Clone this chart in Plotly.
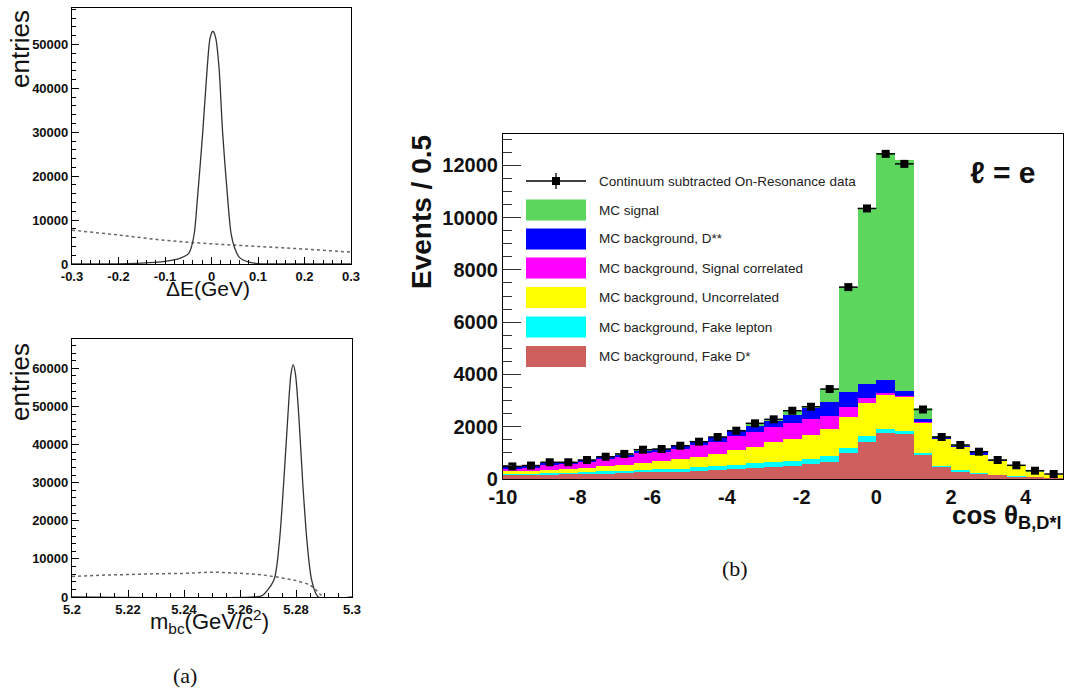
import plotly.graph_objects as go

W, H = 1067, 695
def px(x): return x / W
def py(y): return 1 - y / H

# ---------------- (a) top : Delta E ----------------
de_sig_x = [-0.30, -0.20, -0.15, -0.10, -0.07, -0.05, -0.045, -0.037, -0.0305, -0.019, -0.009, -0.003,
            0.003, 0.009, 0.016, 0.024, 0.035, 0.042, 0.05, 0.06, 0.08, 0.10, 0.15, 0.30]
de_sig_y = [0, 50, 200, 600, 1200, 2300, 3300, 7000, 14600, 29800, 45000, 51500,
            53000, 51500, 45000, 29800, 14600, 7000, 3600, 1500, 400, 100, 0, 0]
de_bkg_x = [-0.3, -0.2, -0.1, 0.0, 0.1, 0.2, 0.3]
de_bkg_y = [7700, 6600, 5400, 4600, 4000, 3400, 2700]

# ---------------- (a) bottom : Mbc ----------------
mbc_sig_x = [5.200, 5.265, 5.268, 5.2721, 5.2740, 5.2756, 5.2770, 5.2782, 5.2790, 5.2798,
             5.2811, 5.2824, 5.2840, 5.2856, 5.2880, 5.300]
mbc_sig_y = [0, 0, 400, 4460, 14000, 30000, 46400, 58500, 61000, 58500,
             46400, 30000, 14000, 4460, 0, 0]
mbc_bkg_x = [5.200, 5.210, 5.220, 5.230, 5.240, 5.250, 5.260, 5.265, 5.270, 5.275,
             5.280, 5.285, 5.2875, 5.2895]
mbc_bkg_y = [5400, 5700, 5900, 6100, 6200, 6500, 6200, 6000, 5600, 5000,
             4300, 3100, 1600, 0]

# ---------------- (b) cos theta_B,D*l ----------------
bin_centers = [-9.75, -9.25, -8.75, -8.25, -7.75, -7.25, -6.75, -6.25, -5.75, -5.25,
               -4.75, -4.25, -3.75, -3.25, -2.75, -2.25, -1.75, -1.25, -0.75, -0.25,
               0.25, 0.75, 1.25, 1.75, 2.25, 2.75, 3.25, 3.75, 4.25, 4.75]
# cumulative tops of the stacked MC components
fake_dstar_top = [140, 150, 160, 175, 190, 210, 220, 255, 268, 280,
                  318, 344, 370, 433, 470, 497, 574, 650, 994, 1427,
                  1771, 1721, 918, 447, 280, 191, 140, 89, 51, 24]
fake_lep_top = [200, 210, 225, 245, 265, 300, 320, 357, 370, 395,
                447, 497, 547, 600, 650, 700, 765, 885, 1185, 1644,
                1924, 1835, 982, 485, 332, 218, 165, 115, 70, 35]
uncorr_top = [300, 310, 345, 380, 420, 480, 535, 624, 688, 752,
              853, 956, 1109, 1235, 1403, 1518, 1683, 1930, 2382, 2894,
              3212, 3147, 2160, 1518, 1211, 918, 700, 497, 280, 153]
sigcorr_top = [400, 420, 520, 560, 640, 750, 830, 982, 1045, 1147,
               1300, 1427, 1644, 1810, 1977, 2130, 2283, 2400, 2765, 3085,
               3277, 3186, 2170, 1525, 1215, 920, 702, 500, 282, 155]
dss_top = [470, 500, 600, 640, 720, 850, 930, 1057, 1150, 1260,
           1420, 1600, 1830, 2027, 2206, 2447, 2703, 2933, 3315, 3633,
           3786, 3377, 2283, 1618, 1260, 1020, 715, 505, 285, 157]
signal_top = [480, 515, 630, 650, 740, 870, 960, 1110, 1160, 1280,
              1440, 1620, 1860, 2103, 2283, 2600, 2803, 3450, 7342, 10352,
              12455, 12200, 2700, 1644, 1300, 1044, 727, 510, 290, 160]
data_y = [480, 515, 640, 640, 727, 853, 960, 1121, 1147, 1274,
          1427, 1606, 1848, 2130, 2283, 2612, 2765, 3442, 7342, 10352,
          12440, 12057, 2660, 1606, 1300, 1044, 727, 524, 317, 191]

comp_names = ["MC signal", "MC background, D**", "MC background, Signal correlated",
              "MC background, Uncorrelated", "MC background, Fake lepton", "MC background, Fake D*"]
comp_colors = ["#5cd65c", "#0000ff", "#ff00ff", "#ffff00", "#00ffff", "#cd5f5f"]
comp_tops = [signal_top, dss_top, sigcorr_top, uncorr_top, fake_lep_top, fake_dstar_top]

FONT = "Liberation Sans, Arial, Helvetica, sans-serif"

fig = go.Figure()

# left curves
fig.add_trace(go.Scatter(x=de_bkg_x, y=de_bkg_y, mode="lines", line=dict(color="#666", width=1.5, dash="dot", shape="spline"),
                         xaxis="x", yaxis="y", showlegend=False))
fig.add_trace(go.Scatter(x=de_sig_x, y=de_sig_y, mode="lines", line=dict(color="#333", width=1.3, shape="spline", smoothing=0.8),
                         xaxis="x", yaxis="y", showlegend=False))
fig.add_trace(go.Scatter(x=mbc_bkg_x, y=mbc_bkg_y, mode="lines", line=dict(color="#666", width=1.5, dash="dot", shape="spline"),
                         xaxis="x2", yaxis="y2", showlegend=False))
fig.add_trace(go.Scatter(x=mbc_sig_x, y=mbc_sig_y, mode="lines", line=dict(color="#333", width=1.3, shape="spline", smoothing=0.8),
                         xaxis="x2", yaxis="y2", showlegend=False))

# right stacked histogram (overlaid cumulative tops)
for name, col, top in zip(comp_names, comp_colors, comp_tops):
    fig.add_trace(go.Bar(x=bin_centers, y=top, width=0.5, marker=dict(color=col, line=dict(width=0)),
                         opacity=1, name=name, xaxis="x3", yaxis="y3", showlegend=False))
fig.add_trace(go.Scatter(x=bin_centers, y=data_y, mode="markers",
                         marker=dict(symbol="square", size=8, color="black"),
                         error_x=dict(type="constant", value=0.25, width=0, thickness=1.5, color="black"),
                         xaxis="x3", yaxis="y3", showlegend=False))

small_tick = dict(family=FONT, size=13, color="#111", weight="bold")
big_tick = dict(family=FONT, size=20, color="#111", weight="bold")

def left_axis_common():
    return dict(showline=True, linecolor="black", linewidth=1.2, mirror=True, ticks="inside",
                ticklen=7, tickcolor="black", showgrid=False, zeroline=False, tickfont=small_tick,
                automargin=False)

layout = dict(
    width=W, height=H, autosize=False, margin=dict(l=0, r=0, t=0, b=0, pad=0),
    paper_bgcolor="white", plot_bgcolor="white", barmode="overlay", bargap=0,
    xaxis=dict(domain=[px(72), px(351)], range=[-0.3, 0.3], anchor="y",
               tickvals=[-0.3, -0.2, -0.1, 0, 0.1, 0.2, 0.3],
               ticktext=["-0.3", "-0.2", "-0.1", "0", "0.1", "0.2", "0.3"],
               minor=dict(ticks="inside", dtick=0.02, tick0=-0.3, ticklen=4, tickcolor="black"),
               **left_axis_common()),
    yaxis=dict(domain=[py(264), py(8)], range=[0, 58300], anchor="x",
               tickvals=[0, 10000, 20000, 30000, 40000, 50000],
               ticktext=["0", "10000", "20000", "30000", "40000", "50000"],
               minor=dict(ticks="inside", dtick=2000, tick0=0, ticklen=4, tickcolor="black"),
               **left_axis_common()),
    xaxis2=dict(domain=[px(72), px(352)], range=[5.2, 5.3], anchor="y2",
                tickvals=[5.2, 5.22, 5.24, 5.26, 5.28, 5.3],
                ticktext=["5.2", "5.22", "5.24", "5.26", "5.28", "5.3"],
                minor=dict(ticks="inside", dtick=0.005, tick0=5.2, ticklen=4, tickcolor="black"),
                **left_axis_common()),
    yaxis2=dict(domain=[py(597), py(339)], range=[0, 67700], anchor="x2",
                tickvals=[0, 10000, 20000, 30000, 40000, 50000, 60000],
                ticktext=["0", "10000", "20000", "30000", "40000", "50000", "60000"],
                minor=dict(ticks="inside", dtick=2000, tick0=0, ticklen=4, tickcolor="black"),
                **left_axis_common()),
    xaxis3=dict(domain=[px(503), px(1063)], range=[-10, 5], anchor="y3",
                tickvals=[-10, -8, -6, -4, -2, 0, 2, 4],
                ticktext=["-10", "-8", "-6", "-4", "-2", "0", "2", "4"],
                showline=True, linecolor="black", linewidth=1.2, mirror=True, ticks="",
                showgrid=False, zeroline=False, tickfont=big_tick, automargin=False),
    yaxis3=dict(domain=[py(479), py(134)], range=[0, 13200], anchor="x3",
                tickvals=[0, 2000, 4000, 6000, 8000, 10000, 12000],
                ticktext=["0", "2000", "4000", "6000", "8000", "10000", "12000"],
                showline=True, linecolor="black", linewidth=1.2, mirror=True,
                ticks="inside", ticklen=18, tickcolor="#333",
                minor=dict(ticks="inside", dtick=500, tick0=0, ticklen=9, tickcolor="#333"),
                showgrid=False, zeroline=False, tickfont=big_tick, automargin=False),
)
fig.update_layout(**layout)

ann = []
def A(x, y, text, size, **kw):
    d = dict(x=px(x), y=py(y), xref="paper", yref="paper", text=text, showarrow=False,
             font=dict(family=kw.pop("family", FONT), size=size, color=kw.pop("color", "#111"),
                       weight=kw.pop("weight", "normal")))
    d.update(kw)
    ann.append(d)

A(20, 49, "entries", 26, textangle=-90, xanchor="center", yanchor="middle")
A(20, 382, "entries", 26, textangle=-90, xanchor="center", yanchor="middle")
A(208, 289, "ΔE(GeV)", 21, xanchor="center", yanchor="middle")
A(209, 621, "m<sub>bc</sub>(GeV/c<sup>2</sup>)", 22, xanchor="center", yanchor="middle")
A(185, 675, "(a)", 22, family="Liberation Serif, DejaVu Serif, serif", xanchor="center", yanchor="middle")
A(735, 568, "(b)", 22, family="Liberation Serif, DejaVu Serif, serif", xanchor="center", yanchor="middle")
A(422, 212, "Events / 0.5", 28, weight="bold", textangle=-90, xanchor="center", yanchor="middle")
A(1064, 516, "cos θ<sub>B,D*l</sub>", 26, weight="bold", xanchor="right", yanchor="middle")
A(1003, 172, "ℓ = e", 30, weight="bold", xanchor="center", yanchor="middle")

# legend (drawn manually)
shapes = []
leg_text_x = 597
A(leg_text_x, 181, "Continuum subtracted On-Resonance data", 13.5, color="#222", xanchor="left", yanchor="middle")
shapes.append(dict(type="line", xref="paper", yref="paper", x0=px(526), x1=px(586), y0=py(181), y1=py(181),
                   line=dict(color="black", width=1.3)))
shapes.append(dict(type="line", xref="paper", yref="paper", x0=px(556), x1=px(556), y0=py(173), y1=py(189),
                   line=dict(color="black", width=1.3)))
shapes.append(dict(type="rect", xref="paper", yref="paper", x0=px(552), x1=px(560), y0=py(185), y1=py(177),
                   fillcolor="black", line=dict(width=0)))
row_y = [210, 239, 268, 297.5, 327, 356.5]
for name, col, yc in zip(comp_names, comp_colors, row_y):
    shapes.append(dict(type="rect", xref="paper", yref="paper", x0=px(526), x1=px(586),
                       y0=py(yc + 10.5), y1=py(yc - 10.5), fillcolor=col, line=dict(width=0)))
    A(leg_text_x, yc, name, 13.5, color="#222", xanchor="left", yanchor="middle")

fig.update_layout(annotations=ann, shapes=shapes)
fig.write_html("out.html", config={"displayModeBar": False},
               post_script="document.body.style.margin='0';document.body.style.padding='0';"
                           "document.body.style.overflow='hidden';")
